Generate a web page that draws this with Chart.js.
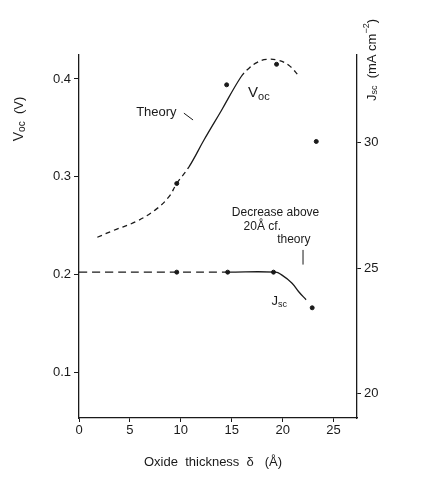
<!DOCTYPE html>
<html>
<head>
<meta charset="utf-8">
<script src="https://cdn.jsdelivr.net/npm/chart.js@4"></script>
<style>
  html, body { margin: 0; padding: 0; background: #fff; }
  #wrap { width: 422px; height: 480px; position: relative; }
</style>
</head>
<body>
<div id="wrap"><canvas id="chart"></canvas></div>
<script>
// Oxide thickness (Å) vs Voc (V, left) and Jsc (mA/cm2, right)
const X_TICKS = [0, 5, 10, 15, 20, 25];
const VOC_TICKS = [0.1, 0.2, 0.3, 0.4];
const JSC_TICKS = [20, 25, 30];

// Voc theory curve
const VOC_THEORY_X = [1.8, 3.4, 5.6, 7.5, 8.8, 9.6, 10.8, 12.3, 14.0, 15.9, 16.7, 17.5, 18.4, 19.6, 20.6, 21.6];
const VOC_THEORY_Y = [0.238, 0.245, 0.254, 0.266, 0.279, 0.293, 0.310, 0.338, 0.368, 0.402, 0.411, 0.417, 0.420, 0.419, 0.414, 0.403];
// Voc measured
const VOC_MEAS_X = [9.6, 14.5, 19.4, 23.3];
const VOC_MEAS_Y = [0.293, 0.394, 0.415, 0.336];

// Jsc curve
const JSC_THEORY_X = [0, 9.6, 14.6, 19.3, 19.9, 20.9, 21.6, 22.3];
const JSC_THEORY_Y = [24.85, 24.85, 24.85, 24.85, 24.74, 24.42, 24.06, 23.75];
// Jsc measured
const JSC_MEAS_X = [9.6, 14.6, 19.1, 22.9];
const JSC_MEAS_Y = [24.85, 24.85, 24.85, 23.43];

function pts(xs, ys) { return xs.map((x, i) => ({ x: x, y: ys[i] })); }

const INK = '#1a1a1a';
const FONT = '"Liberation Sans", Arial, sans-serif';
const DASH = [5, 4];

// draw text made of pieces [text, size, dy] with sub/superscripts
function drawParts(ctx, parts, x, y, align) {
    let w = 0;
    parts.forEach(p => { ctx.font = p[1] + 'px ' + FONT; w += ctx.measureText(p[0]).width; });
    let cx = align === 'center' ? x - w / 2 : (align === 'right' ? x - w : x);
    ctx.textAlign = 'left';
    parts.forEach(p => {
        ctx.font = p[1] + 'px ' + FONT;
        ctx.fillText(p[0], cx, y + (p[2] || 0));
        cx += ctx.measureText(p[0]).width;
    });
}

const labelsPlugin = {
    id: 'labels',
    afterDraw(chart) {
        const ctx = chart.ctx, sx = chart.scales.x, sy = chart.scales.y;
        const px = v => sx.getPixelForValue(v), py = v => sy.getPixelForValue(v);
        ctx.save();
        ctx.fillStyle = INK;
        ctx.strokeStyle = INK;
        ctx.lineWidth = 1;
        ctx.textBaseline = 'middle';

        // axis titles
        ctx.save();
        ctx.translate(19, 119);
        ctx.rotate(-Math.PI / 2);
        drawParts(ctx, [['V', 14, 0], ['oc', 10, 3], ['  (V)', 13, 0]], 0, 0, 'center');
        ctx.restore();

        ctx.save();
        ctx.translate(372, 60);
        ctx.rotate(-Math.PI / 2);
        drawParts(ctx, [['J', 13, 0], ['sc', 9, 3], ['  (mA cm', 13, 0], ['−2', 9, -5], [')', 13, 0]], 0, 0, 'center');
        ctx.restore();

        drawParts(ctx, [['Oxide  thickness  δ   (Å)', 13, 0]], 213, 462, 'center');

        // annotations
        drawParts(ctx, [['Theory', 13, 0]], px(7.6), py(0.366), 'center');
        ctx.beginPath();
        ctx.moveTo(px(10.3), py(0.365));
        ctx.lineTo(px(11.2), py(0.358));
        ctx.stroke();

        drawParts(ctx, [['V', 15, 0], ['oc', 11, 4]], px(16.6), py(0.386), 'left');

        drawParts(ctx, [['Decrease above', 12, 0]], px(19.3), py(0.263), 'center');
        drawParts(ctx, [['20Å cf.', 12, 0]], px(18.0), py(0.249), 'center');
        drawParts(ctx, [['theory', 12, 0]], px(21.1), py(0.235), 'center');
        ctx.beginPath();
        ctx.moveTo(px(22.0), py(0.225));
        ctx.lineTo(px(22.0), py(0.210));
        ctx.stroke();

        drawParts(ctx, [['J', 13, 0], ['sc', 9, 3]], px(18.9), py(0.172), 'left');
        ctx.restore();
    }
};

function fixTicks(values) {
    return scale => { scale.ticks = values.map(v => ({ value: v })); };
}

new Chart(document.getElementById('chart'), {
    type: 'line',
    data: {
        datasets: [
            {
                label: 'Voc theory',
                data: pts(VOC_THEORY_X, VOC_THEORY_Y),
                yAxisID: 'y',
                borderColor: INK,
                borderWidth: 1.3,
                pointRadius: 0,
                tension: 0.4,
                segment: {
                    borderDash: c => (c.p0.parsed.x < 10.5 || c.p0.parsed.x >= 15.8) ? DASH : undefined
                }
            },
            {
                label: 'Voc',
                data: pts(VOC_MEAS_X, VOC_MEAS_Y),
                yAxisID: 'y',
                showLine: false,
                pointRadius: 2,
                pointBackgroundColor: INK,
                pointBorderColor: INK
            },
            {
                label: 'Jsc theory',
                data: pts(JSC_THEORY_X, JSC_THEORY_Y),
                yAxisID: 'y2',
                borderColor: INK,
                borderWidth: 1.3,
                pointRadius: 0,
                tension: 0.4,
                segment: {
                    borderDash: c => c.p0.parsed.x < 14.5 ? [8, 5] : undefined
                }
            },
            {
                label: 'Jsc',
                data: pts(JSC_MEAS_X, JSC_MEAS_Y),
                yAxisID: 'y2',
                showLine: false,
                pointRadius: 2,
                pointBackgroundColor: INK,
                pointBorderColor: INK
            }
        ]
    },
    options: {
        responsive: true,
        maintainAspectRatio: false,
        animation: false,
        layout: { padding: { top: 55, left: 0, right: 0, bottom: 0 } },
        plugins: { legend: { display: false }, tooltip: { enabled: false } },
        scales: {
            x: {
                type: 'linear',
                min: 0,
                max: 27.3,
                afterBuildTicks: fixTicks(X_TICKS),
                afterFit: s => { s.height = 62; },
                border: { color: INK, width: 1.3 },
                grid: { drawOnChartArea: false, tickLength: 4, color: INK },
                ticks: { color: INK, font: { family: FONT, size: 13 }, padding: 1, maxRotation: 0 }
            },
            y: {
                position: 'left',
                min: 0.053,
                max: 0.4245,
                afterBuildTicks: fixTicks(VOC_TICKS),
                afterFit: s => { s.width = 79; },
                border: { color: INK, width: 1.3 },
                grid: { drawOnChartArea: false, tickLength: 5, color: INK },
                ticks: { color: INK, font: { family: FONT, size: 13 }, padding: 3, callback: v => v.toFixed(1) }
            },
            y2: {
                position: 'right',
                min: 19.04,
                max: 33.5,
                afterBuildTicks: fixTicks(JSC_TICKS),
                afterFit: s => { s.width = 65; },
                border: { color: INK, width: 1.3 },
                grid: { drawOnChartArea: false, tickLength: 4, color: INK },
                ticks: { color: INK, font: { family: FONT, size: 13 }, padding: 3 }
            }
        }
    },
    plugins: [labelsPlugin]
});
</script>
</body>
</html>
